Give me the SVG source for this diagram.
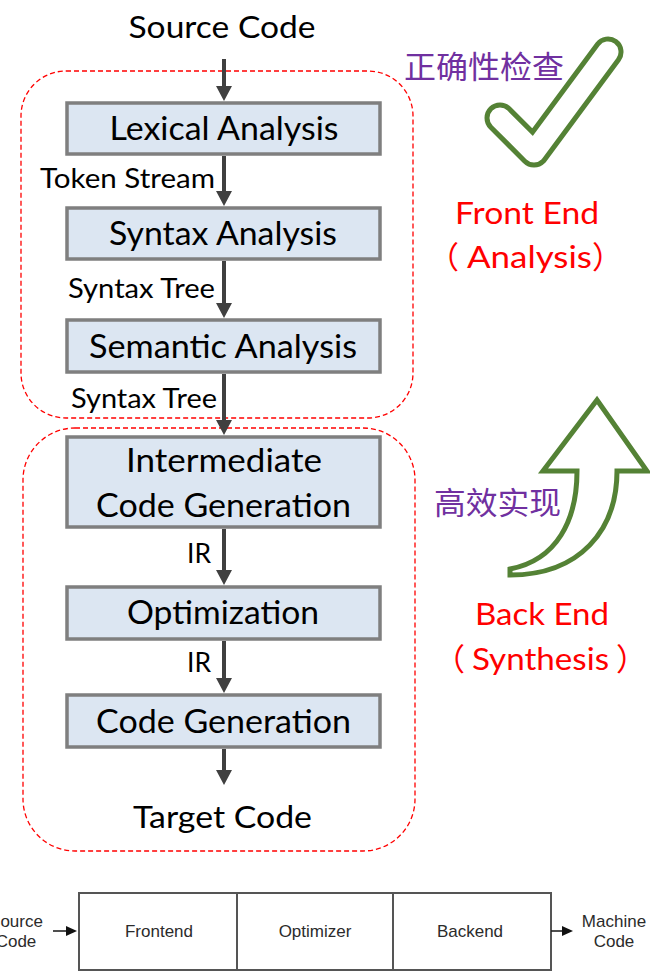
<svg xmlns="http://www.w3.org/2000/svg" width="650" height="973" viewBox="0 0 650 973">
<style>
.box{fill:#dce6f2;stroke:#7f7f7f;stroke-width:3.5}
.bt{font-family:Lato,"Open Sans",sans-serif;font-size:33px;fill:#000;text-anchor:middle}
.lbl{font-family:Lato,"Open Sans",sans-serif;font-size:26px;fill:#000}
.big{font-family:Lato,"Open Sans",sans-serif;font-size:31px;fill:#000;text-anchor:middle}
.red{font-family:Lato,"Noto Sans CJK SC",sans-serif;font-size:31px;fill:#ff0000}
.cjk{font-family:"Noto Sans CJK SC",sans-serif;font-size:31px;fill:#7030a0}
.zone{fill:none;stroke:#ff0000;stroke-width:1.3;stroke-dasharray:5 3}
.conn{stroke:#404040;stroke-width:4;fill:none}
.sm{font-family:"Liberation Sans",Arial,sans-serif;font-size:17px;fill:#2b2b2b;text-anchor:middle}
.pbox{fill:#fff;stroke:#555;stroke-width:2}
.thin{stroke:#222;stroke-width:1.6;fill:none}
</style>
<defs>
<marker id="ah" markerUnits="userSpaceOnUse" markerWidth="15" markerHeight="16" viewBox="0 0 15 16" refX="0" refY="8" orient="auto">
<path d="M0,0 L15,8 L0,16 Z" fill="#404040"/>
</marker>
<marker id="ahs" markerUnits="userSpaceOnUse" markerWidth="11" markerHeight="10" viewBox="0 0 11 10" refX="0" refY="5" orient="auto">
<path d="M0,0 L11,5 L0,10 Z" fill="#111"/>
</marker>
</defs>

<g id="zones">
<rect class="zone" x="21" y="71" width="392" height="347" rx="45"/>
<rect class="zone" x="23" y="428" width="392" height="423" rx="52"/>
</g>

<g id="source"><text class="big" x="222" y="38" textLength="187" lengthAdjust="spacingAndGlyphs">Source Code</text></g>

<g id="lexical">
<rect class="box" x="67" y="103" width="313" height="51"/>
<text class="bt" x="224" y="140" textLength="229" lengthAdjust="spacingAndGlyphs">Lexical Analysis</text>
</g>
<g id="syntax">
<rect class="box" x="67" y="208" width="313" height="51"/>
<text class="bt" x="223" y="245" textLength="228" lengthAdjust="spacingAndGlyphs">Syntax Analysis</text>
</g>
<g id="semantic">
<rect class="box" x="67" y="320" width="313" height="52"/>
<text class="bt" x="223" y="358" textLength="268" lengthAdjust="spacingAndGlyphs">Semantic Analysis</text>
</g>
<g id="intermediate">
<rect class="box" x="67" y="437" width="313" height="90"/>
<text class="bt" x="224" y="472" textLength="196" lengthAdjust="spacingAndGlyphs">Intermediate</text>
<text class="bt" x="223.5" y="517" textLength="255" lengthAdjust="spacingAndGlyphs">Code Generation</text>
</g>
<g id="optimization">
<rect class="box" x="67" y="587" width="313" height="52"/>
<text class="bt" x="223" y="624" textLength="192" lengthAdjust="spacingAndGlyphs">Optimization</text>
</g>
<g id="codegen">
<rect class="box" x="67" y="695" width="313" height="52"/>
<text class="bt" x="223.5" y="733" textLength="255" lengthAdjust="spacingAndGlyphs">Code Generation</text>
</g>
<g id="target"><text class="big" x="222.5" y="828" textLength="179" lengthAdjust="spacingAndGlyphs">Target Code</text></g>

<g id="connectors">
<line class="conn" x1="224" y1="59" x2="224" y2="86" marker-end="url(#ah)"/>
<line class="conn" x1="224" y1="156" x2="224" y2="191" marker-end="url(#ah)"/>
<line class="conn" x1="224" y1="261" x2="224" y2="303" marker-end="url(#ah)"/>
<line class="conn" x1="224" y1="374" x2="224" y2="420" marker-end="url(#ah)"/>
<line class="conn" x1="224" y1="529" x2="224" y2="570" marker-end="url(#ah)"/>
<line class="conn" x1="224" y1="641" x2="224" y2="678" marker-end="url(#ah)"/>
<line class="conn" x1="224" y1="749" x2="224" y2="770" marker-end="url(#ah)"/>
<text class="lbl" x="40" y="188" textLength="175" lengthAdjust="spacingAndGlyphs">Token Stream</text>
<text class="lbl" x="68" y="298" textLength="147" lengthAdjust="spacingAndGlyphs">Syntax Tree</text>
<text class="lbl" x="71" y="408" textLength="146" lengthAdjust="spacingAndGlyphs">Syntax Tree</text>
<text class="lbl" x="187" y="563" textLength="24" lengthAdjust="spacingAndGlyphs">IR</text>
<text class="lbl" x="187" y="672" textLength="24" lengthAdjust="spacingAndGlyphs">IR</text>
</g>

<g id="frontend-note">
<path d="M500,118 L534,152 L608,52" fill="none" stroke="#548235" stroke-width="31" stroke-linecap="round" stroke-linejoin="round"/>
<path d="M500,118 L534,152 L608,52" fill="none" stroke="#fff" stroke-width="21" stroke-linecap="round" stroke-linejoin="round"/>
<text class="cjk" x="404" y="78" textLength="160" lengthAdjust="spacingAndGlyphs">正确性检查</text>
<text class="red" x="455" y="224" textLength="144" lengthAdjust="spacingAndGlyphs">Front End</text>
<text class="red" y="268"><tspan x="428">（</tspan><tspan x="467" textLength="125" lengthAdjust="spacingAndGlyphs">Analysis</tspan><tspan x="592">）</tspan></text>
</g>

<g id="backend-note">
<path d="M510,575 C580,575 617,530 617,471 L647,471 L597,400 L543,471 L577,471 C577,520 557,560 510,569 Z" fill="#fff" stroke="#548235" stroke-width="5" stroke-linejoin="miter"/>
<text class="cjk" x="434" y="514" textLength="127" lengthAdjust="spacingAndGlyphs">高效实现</text>
<text class="red" x="475" y="625" textLength="134" lengthAdjust="spacingAndGlyphs">Back End</text>
<text class="red" y="670"><tspan x="434">（</tspan><tspan x="472" textLength="137" lengthAdjust="spacingAndGlyphs">Synthesis</tspan><tspan x="616">）</tspan></text>
</g>

<g id="pipeline">
<rect class="pbox" x="79" y="893" width="472" height="77"/>
<line x1="237" y1="893" x2="237" y2="970" stroke="#555" stroke-width="2"/>
<line x1="393" y1="893" x2="393" y2="970" stroke="#555" stroke-width="2"/>
<text class="sm" x="159" y="937">Frontend</text>
<text class="sm" x="315" y="937">Optimizer</text>
<text class="sm" x="470" y="937">Backend</text>
<text class="sm" x="16" y="927">Source</text>
<text class="sm" x="16" y="947">Code</text>
<text class="sm" x="614" y="927">Machine</text>
<text class="sm" x="614" y="947">Code</text>
<line class="thin" x1="53" y1="931" x2="66" y2="931" marker-end="url(#ahs)"/>
<line class="thin" x1="551" y1="931" x2="562" y2="931" marker-end="url(#ahs)"/>
</g>
</svg>
